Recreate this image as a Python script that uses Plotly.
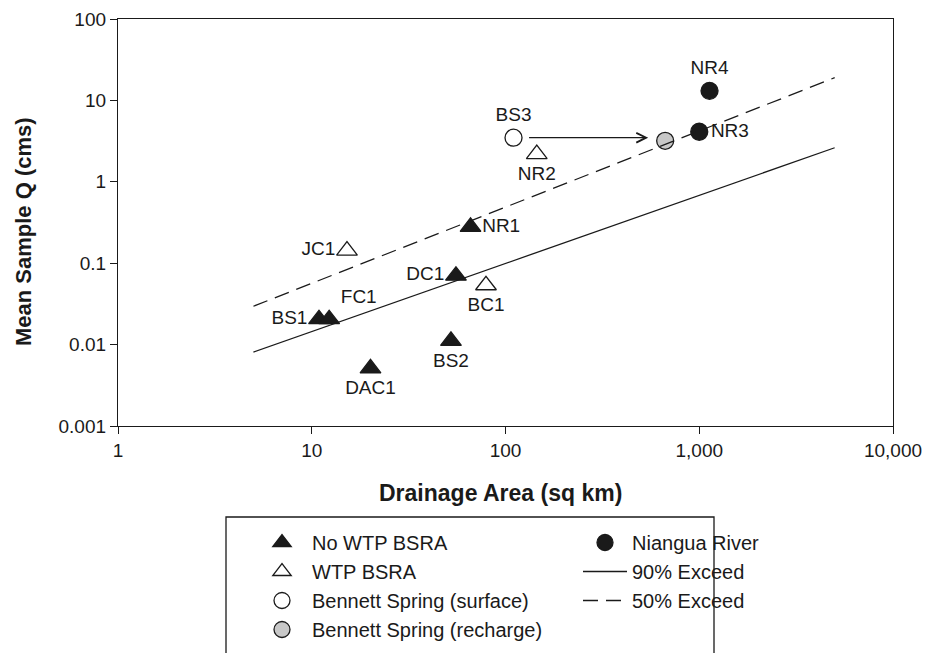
import math
import plotly.graph_objects as go

# ---------------- data ----------------
nowtp_names = ["NR1", "DC1", "BS1", "FC1", "BS2", "DAC1"]
nowtp_area = [66, 55.5, 10.9, 12.3, 52.3, 20.1]
nowtp_q = [0.279, 0.0702, 0.0205, 0.0205, 0.0111, 0.0051]
nowtp_pos = ["middle right", "middle left", "middle left", "top right", "bottom center", "bottom center"]

wtp_names = ["NR2", "JC1", "BC1"]
wtp_area = [145, 15.2, 79.3]
wtp_q = [2.19, 0.143, 0.0536]
wtp_pos = ["bottom center", "middle left", "bottom center"]

bs_surface_names = ["BS3"]
bs_surface_area = [110]
bs_surface_q = [3.48]
bs_surface_pos = ["top center"]

bs_recharge_area = [667]
bs_recharge_q = [3.19]

niangua_names = ["NR4", "NR3"]
niangua_area = [1130, 1000]
niangua_q = [13.1, 4.12]
niangua_pos = ["top center", "middle right"]

exceed90_area = [5, 5000]
exceed90_q = [0.0081, 2.62]
exceed50_area = [5, 5000]
exceed50_q = [0.0296, 19.0]

arrow_area = [130, 545]   # start, end
arrow_q = 3.48

x_tickvals = [1, 10, 100, 1000, 10000]
x_ticktext = ["1", "10", "100", "1,000", "10,000"]
y_tickvals = [0.001, 0.01, 0.1, 1, 10, 100]
y_ticktext = ["0.001", "0.01", "0.1", "1", "10", "100"]

# ---------------- figure ----------------
FONT = "Liberation Sans, Arial, Helvetica, sans-serif"
INK = "#1a1a1a"
L, T, PW, PH = 118, 19, 775, 407

fig = go.Figure()

def pts(name, x, y, symbol, size, fill, legend, group):
    fig.add_trace(go.Scatter(
        x=x, y=y, mode="markers", name=name,
        marker=dict(symbol=symbol, size=size,
                    color=fill, line=dict(color=INK, width=1.3)),
        legend=legend, legendgroup=group, showlegend=True, hoverinfo="skip"))

def line(name, x, y, dash, legend, group):
    fig.add_trace(go.Scatter(
        x=x, y=y, mode="lines", name=name,
        line=dict(color=INK, width=1.3, dash=dash),
        legend=legend, legendgroup=group, hoverinfo="skip"))

pts("No WTP BSRA", nowtp_area, nowtp_q, "triangle-up", 18, INK, "legend", "g1")
pts("WTP BSRA", wtp_area, wtp_q, "triangle-up", 18, "white", "legend", "g2")
pts("Bennett Spring (surface)", bs_surface_area, bs_surface_q, "circle", 17, "white", "legend", "g3")
pts("Bennett Spring (recharge)", bs_recharge_area, bs_recharge_q, "circle", 17, "#c8c8c8", "legend", "g4")
pts("Niangua River", niangua_area, niangua_q, "circle", 17, INK, "legend2", "g5")
line("90% Exceed", exceed90_area, exceed90_q, "solid", "legend2", "g6")
line("50% Exceed", exceed50_area, exceed50_q, "15px,8px", "legend2", "g7")

# point labels (invisible markers keep label offsets)
lab_x = nowtp_area + wtp_area + bs_surface_area + niangua_area
lab_y = nowtp_q + wtp_q + bs_surface_q + niangua_q
lab_t = nowtp_names + wtp_names + bs_surface_names + niangua_names
lab_p = nowtp_pos + wtp_pos + bs_surface_pos + niangua_pos
fig.add_trace(go.Scatter(
    x=lab_x, y=lab_y, text=lab_t, textposition=lab_p, mode="markers+text",
    marker=dict(size=17, color="rgba(0,0,0,0)"),
    textfont=dict(family=FONT, size=19, color=INK),
    showlegend=False, hoverinfo="skip"))

# arrow from surface to recharge
fig.add_annotation(
    x=math.log10(arrow_area[1]), y=math.log10(arrow_q),
    ax=math.log10(arrow_area[0]), ay=math.log10(arrow_q),
    xref="x", yref="y", axref="x", ayref="y",
    showarrow=True, arrowhead=5, arrowsize=1.6, arrowwidth=1.2,
    arrowcolor=INK, text="", font=dict(size=1))

# axis titles
fig.add_annotation(text="<b>Drainage Area (sq km)</b>", xref="paper", yref="paper",
                   x=(500 - L) / PW, y=(426 - 493) / PH, xanchor="center", yanchor="middle",
                   showarrow=False, font=dict(family=FONT, size=23, color=INK))
fig.add_annotation(text="<b>Mean Sample Q (cms)</b>", xref="paper", yref="paper",
                   x=(24 - L) / PW, y=(426 - 232) / PH, xanchor="center", yanchor="middle",
                   textangle=-90, showarrow=False, font=dict(family=FONT, size=22, color=INK))

# legend frame
fig.add_shape(type="rect", xref="paper", yref="paper",
              x0=(226 - L) / PW, x1=(714 - L) / PW,
              y0=(426 - 517) / PH, y1=(426 - 670) / PH,
              line=dict(color=INK, width=1.3), fillcolor="rgba(0,0,0,0)")

legend_common = dict(
    xref="container", yref="container", xanchor="left", yanchor="top",
    bgcolor="rgba(0,0,0,0)", borderwidth=0,
    tracegroupgap=0, font=dict(family=FONT, size=20, color=INK),
    traceorder="grouped", orientation="v")

fig.update_layout(
    width=931, height=653,
    margin=dict(l=L, r=931 - L - PW, t=T, b=653 - T - PH, autoexpand=False),
    paper_bgcolor="white", plot_bgcolor="white",
    font=dict(family=FONT, size=19, color=INK),
    legend=dict(x=252 / 931, y=1 - 523 / 653, itemwidth=50, **legend_common),
    legend2=dict(x=578 / 931, y=1 - 523 / 653, itemwidth=44, **legend_common),
    xaxis=dict(
        type="log", range=[0, 4], tickvals=x_tickvals, ticktext=x_ticktext,
        showgrid=False, zeroline=False, showline=True, mirror=True,
        linecolor=INK, linewidth=1.3, ticks="outside", ticklen=7,
        tickwidth=1.2, tickcolor=INK, tickangle=0, automargin=False,
        tickfont=dict(family=FONT, size=19, color=INK)),
    yaxis=dict(
        type="log", range=[-3, 2], tickvals=y_tickvals, ticktext=y_ticktext,
        showgrid=False, zeroline=False, showline=True, mirror=True,
        linecolor=INK, linewidth=1.3, ticks="outside", ticklen=7,
        tickwidth=1.2, tickcolor=INK, automargin=False,
        tickfont=dict(family=FONT, size=19, color=INK)),
)

fig.write_html("out.html", config={"displayModeBar": False},
               post_script="document.body.style.margin='0px';")
